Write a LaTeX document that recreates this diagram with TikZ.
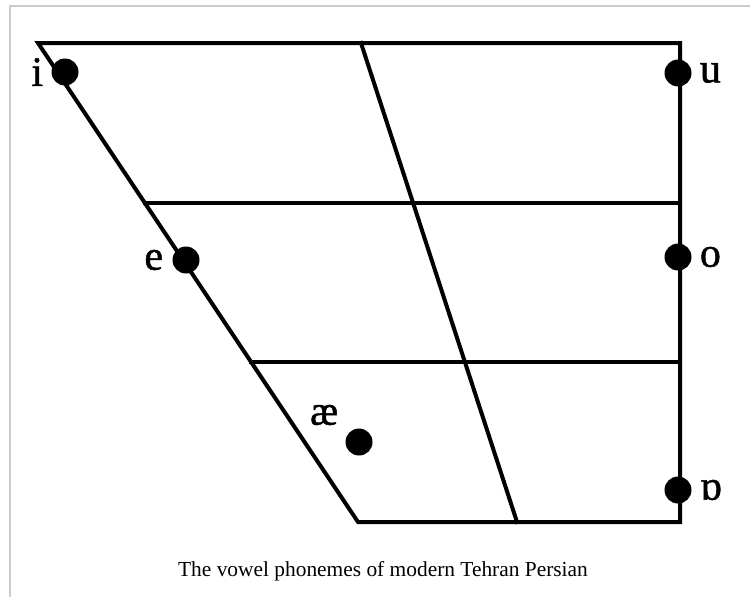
\documentclass[tikz,border=0pt]{standalone}
\usepackage{fontspec}
\setmainfont{Liberation Serif}
\newfontfamily\ipafamily[FakeBold=1.2]{Liberation Serif}
\usetikzlibrary{positioning,calc}
\definecolor{frameGray}{HTML}{CCCCCC}
\newcommand{\ipafont}{\ipafamily\fontsize{42}{42}\selectfont}

\begin{document}
\begin{tikzpicture}[x=1pt,y=-1pt,
    chartline/.style={line width=4pt,line cap=rect},
    vowel/.style={circle,fill=black,minimum size=27pt,inner sep=0pt},
    ipa/.style={font=\ipafont,inner sep=0pt}]
        \useasboundingbox (0,0) rectangle (750,597);
        \draw[frameGray,line width=1.2pt] (10,597) -- (10,6) -- (750,6);
        % corners of the chart
        \coordinate (tl) at (38,43);
        \coordinate (tr) at (680,43);
        \coordinate (br) at (680,522);
        \coordinate (bl) at (358,522);
        \coordinate (tm) at (361,43);
        \coordinate (bm) at (517,522);
        \draw[chartline,line join=miter] (tl) -- (tr) -- (br) -- (bl) -- cycle;
        \draw[chartline] (tm) -- (bm);
        \draw[chartline] ($(tl)!1/3!(bl)$) -- ($(tr)!1/3!(br)$);
        \draw[chartline] ($(tl)!2/3!(bl)$) -- ($(tr)!2/3!(br)$);
        % vowels
        \node[vowel] (i) at (65,72) {};
        \node[vowel] (u) at (678,73) {};
        \node[vowel] (e) at (186,260) {};
        \node[vowel] (o) at (678,257) {};
        \node[vowel] (ae) at (359,442) {};
        \node[vowel] (ao) at (678,490) {};
        \node[ipa,left=8pt of i] (i-lbl) {i};
        \node[ipa,right=8pt of u] (u-lbl) {u};
        \node[ipa,left=9pt of e] (e-lbl) {e};
        \node[ipa,right=8pt of o] (o-lbl) {o};
        \node[ipa,above left=7pt and 11pt of ae] (ae-lbl) {æ};
        \node[ipa,right=8pt of ao] (ao-lbl) {ɒ};
        \node[font=\fontsize{21.4}{21.4}\selectfont,anchor=base] (caption) at (383,576) {The vowel phonemes of modern Tehran Persian};
      \end{tikzpicture}
\end{document}
